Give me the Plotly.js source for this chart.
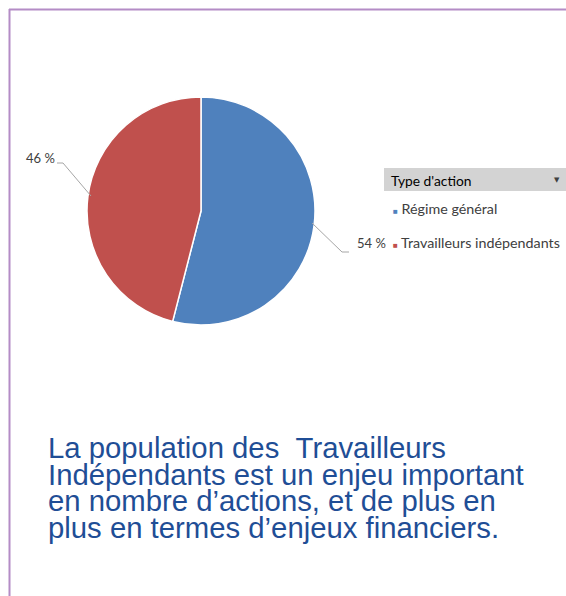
<!DOCTYPE html>
<html>
<head>
<meta charset="utf-8">
<script src="https://cdn.plot.ly/plotly-3.0.1.min.js"></script>
<style>
html,body{margin:0;padding:0;background:#ffffff;}
#chart{width:566px;height:596px;}
</style>
</head>
<body>
<div id="chart"></div>
<script>
// ---- data ----
var categories = ['Régime général', 'Travailleurs indépendants'];
var values = [54, 46];
var colors = ['#4f81bd', '#c0504d'];
var legendTitle = "Type d'action";
var noteLines = [
  'La population des \u00a0Travailleurs',
  'Indépendants est un enjeu important',
  'en nombre d\u2019actions, et de plus en',
  'plus en termes d\u2019enjeux financiers.'
];

// ---- helpers (pixel -> paper) ----
var W = 566, H = 596;
function px(x){ return x / W; }
function py(y){ return 1 - y / H; }

var cx = 201, cy = 211, r = 114;
var narrow = '"Lato", "Noto Sans", sans-serif';

var trace = {
  type: 'pie',
  labels: categories,
  values: values,
  sort: false,
  direction: 'clockwise',
  rotation: 0,
  marker: {colors: colors, line: {color: '#ffffff', width: 1.5}},
  textinfo: 'none',
  hoverinfo: 'label+percent',
  showlegend: false,
  domain: {x: [px(cx - r), px(cx + r)], y: [py(cy + r), py(cy - r)]}
};

var annotations = [];
// percentage labels
var labelPos = [{x: 355, y: 243, anchor: 'left'}, {x: 57, y: 158, anchor: 'right'}];
values.forEach(function(v, i){
  annotations.push({
    xref: 'paper', yref: 'paper', x: px(labelPos[i].x), y: py(labelPos[i].y),
    xanchor: labelPos[i].anchor, yanchor: 'middle', showarrow: false,
    text: v + ' %', font: {family: narrow, size: 13, color: '#404040'}
  });
});
// legend header
annotations.push({
  xref: 'paper', yref: 'paper', x: px(389), y: py(180), xanchor: 'left', yanchor: 'middle',
  showarrow: false, text: legendTitle, font: {family: narrow, size: 13.8, color: '#000000'}
});
annotations.push({
  xref: 'paper', yref: 'paper', x: px(557), y: py(180), xanchor: 'center', yanchor: 'middle',
  showarrow: false, text: '\u25BC', font: {family: 'DejaVu Sans', size: 7, color: '#404040'}
});
// legend items
var legendY = [209, 243];
categories.forEach(function(c, i){
  annotations.push({
    xref: 'paper', yref: 'paper', x: px(391), y: py(legendY[i]), xanchor: 'left', yanchor: 'middle',
    showarrow: false,
    text: '<span style="font-size:8px;color:' + colors[i] + '">\u25A0</span> ' + c,
    font: {family: narrow, size: 14.3, color: '#404040'}
  });
});
// note text
var noteY = [447, 474, 500, 527];
noteLines.forEach(function(t, i){
  annotations.push({
    xref: 'paper', yref: 'paper', x: px(46), y: py(noteY[i]), xanchor: 'left', yanchor: 'middle',
    showarrow: false, text: t,
    font: {family: '"Liberation Sans", Arial, sans-serif', size: 29.3, color: '#1f4e96'}
  });
});

var shapes = [
  // frame
  {type: 'line', xref: 'paper', yref: 'paper', x0: px(9), x1: 1, y0: py(9.5), y1: py(9.5),
   line: {color: '#b48cc6', width: 2}},
  {type: 'line', xref: 'paper', yref: 'paper', x0: px(9.5), x1: px(9.5), y0: py(9), y1: 0,
   line: {color: '#b48cc6', width: 2}},
  // legend header band
  {type: 'rect', xref: 'paper', yref: 'paper', x0: px(384), x1: 1, y0: py(191), y1: py(168),
   fillcolor: '#d3d3d3', line: {width: 0}, layer: 'below'},
  // leader lines
  {type: 'path', xref: 'paper', yref: 'paper', layer: 'above',
   path: '', line: {color: '#a6a6a6', width: 1}, _pts: [[312, 223], [342, 252], [349, 252]]},
  {type: 'path', xref: 'paper', yref: 'paper', layer: 'above',
   path: '', line: {color: '#a6a6a6', width: 1}, _pts: [[57, 163], [63, 163], [91, 196]]}
];
shapes.forEach(function(s){
  if (s._pts){
    s.path = s._pts.map(function(p, i){ return (i ? 'L' : 'M') + px(p[0]) + ',' + py(p[1]); }).join(' ');
    delete s._pts;
  }
});

var layout = {
  width: W, height: H,
  margin: {l: 0, r: 0, t: 0, b: 0},
  paper_bgcolor: '#ffffff',
  plot_bgcolor: '#ffffff',
  showlegend: false,
  annotations: annotations,
  shapes: shapes
};

Plotly.newPlot('chart', [trace], layout, {displayModeBar: false, staticPlot: true});
</script>
</body>
</html>
